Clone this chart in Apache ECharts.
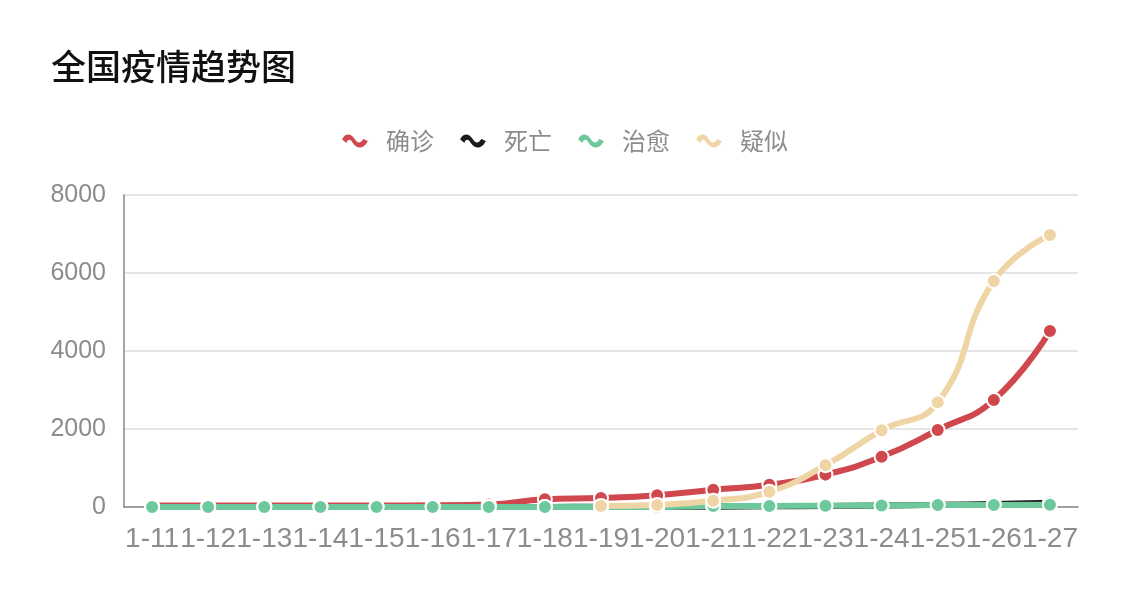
<!DOCTYPE html>
<html>
<head>
<meta charset="utf-8">
<script src="https://cdn.jsdelivr.net/npm/echarts@6/dist/echarts.min.js"></script>
<style>
    html, body {margin:0;padding:0;background:#ffffff;}
    #main {width:1128px;height:600px;}
</style>
</head>
<body>
<div id="main"></div>
<script>
    // 日期
    var dates = ['1-11','1-12','1-13','1-14','1-15','1-16','1-17','1-18','1-19','1-20','1-21','1-22','1-23','1-24','1-25','1-26','1-27'];
    // 确诊
    var confirmed = [41, 41, 41, 41, 41, 45, 62, 200, 230, 300, 440, 571, 830, 1287, 1975, 2744, 4515];
    // 死亡
    var dead = [1, 1, 1, 1, 2, 2, 2, 3, 4, 6, 9, 17, 25, 41, 56, 80, 106];
    // 治愈
    var healed = [0, 0, 0, 0, 0, 0, 0, 0, 0, 0, 25, 28, 34, 38, 49, 51, 60];
    // 疑似
    var suspect = [null, null, null, null, null, null, null, null, 25, 54, 160, 393, 1072, 1965, 2684, 5794, 6973];
    var yTicks = [0, 2000, 4000, 6000, 8000];

    var chart = echarts.init(document.getElementById('main'));

    // 图例的波浪图标
    var wave = 'path://M0,7 C3,-1 10,-1 14,5 C17,10 19,10 22,5 L28,8 C24,18 16,18 11,11 C9,7 7,7 6,12 Z';
    var labelColor = '#8c8c8c';

    function line(name, data, color) {
        return {
            name: name,
            type: 'line',
            smooth: true,
            data: data,
            symbol: 'circle',
            symbolSize: 14,
            showAllSymbol: true,
            lineStyle: {width: 6, color: color},
            itemStyle: {color: color, borderColor: '#ffffff', borderWidth: 2},
            emphasis: {disabled: true}
        };
    }

    var option = {
        animation: false,
        textStyle: {fontFamily: 'Liberation Sans, "Noto Sans CJK SC", sans-serif'},
        title: {
            text: '全国疫情趋势图',
            left: 46,
            top: 44,
            textStyle: {
                fontSize: 35,
                fontWeight: 500,
                color: '#111111',
                fontFamily: '"Noto Sans CJK SC", sans-serif'
            }
        },
        color: ['#d0474e', '#1a1a1a', '#6dc99c', '#efd5a5'],
        legend: {
            top: 124,
            left: 'center',
            itemWidth: 28,
            itemHeight: 17,
            itemGap: 24,
            icon: wave,
            textStyle: {
                fontSize: 24,
                color: labelColor,
                padding: [0, 0, 0, 12],
                fontFamily: '"Noto Sans CJK SC", sans-serif'
            },
            data: ['确诊', '死亡', '治愈', '疑似']
        },
        grid: {left: 124, right: 50, top: 195, bottom: 93},
        xAxis: {
            type: 'category',
            data: dates,
            boundaryGap: true,
            axisLine: {lineStyle: {color: '#888888', width: 1.5}},
            axisTick: {show: false},
            axisLabel: {interval: 0, fontSize: 28, color: labelColor, margin: 18}
        },
        yAxis: {
            type: 'value',
            min: yTicks[0],
            max: yTicks[yTicks.length - 1],
            interval: 2000,
            axisLine: {show: true, lineStyle: {color: '#888888', width: 1.5}},
            axisTick: {show: false},
            axisLabel: {
                fontSize: 25,
                color: labelColor,
                margin: 18,
                formatter: function (v) { return String(v); }
            },
            splitLine: {lineStyle: {color: '#dddddd', width: 1.5}}
        },
        series: [
            line('确诊', confirmed, '#d0474e'),
            line('死亡', dead, '#1a1a1a'),
            line('治愈', healed, '#6dc99c'),
            line('疑似', suspect, '#efd5a5')
        ]
    };
    chart.setOption(option);
</script>
</body>
</html>
